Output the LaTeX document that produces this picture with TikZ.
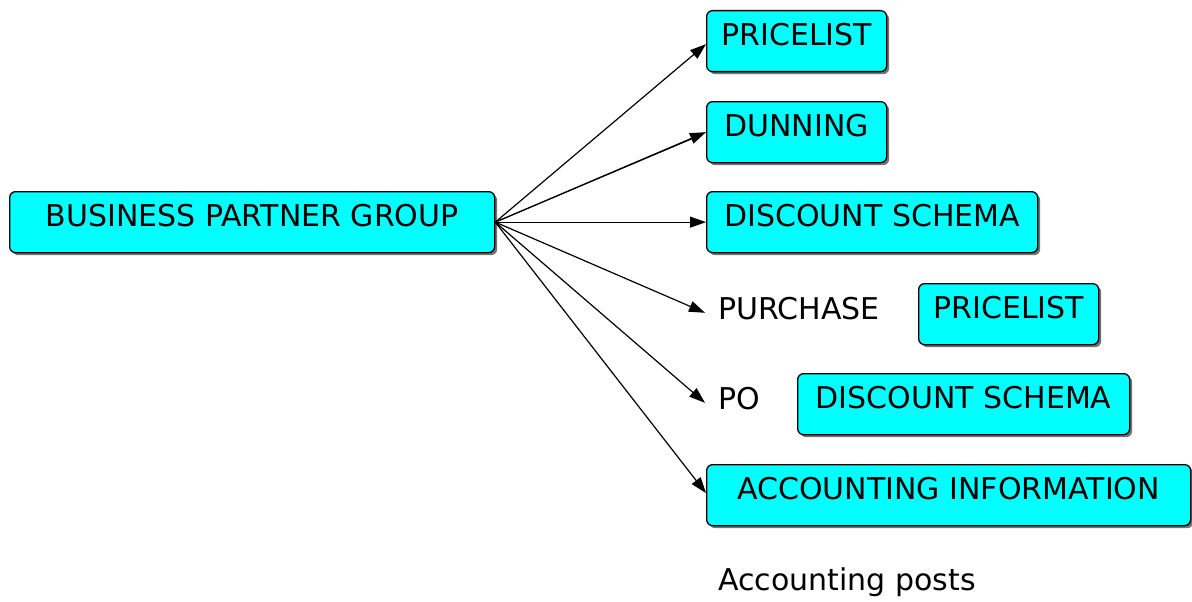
\documentclass[tikz,border=0pt]{standalone}
\usepackage{fontspec}
\setmainfont{DejaVu Sans}
\usetikzlibrary{arrows.meta,shadows,calc}
\definecolor{boxcyan}{HTML}{00FFFF}
\begin{document}
\begin{tikzpicture}[x=1pt,y=-1pt,
  every node/.style={font=\fontsize{30}{36}\selectfont},
  entity/.style={draw, line width=1.3pt, fill=boxcyan, rounded corners=6pt,
    text height=22pt, text depth=14pt, inner ysep=12.5pt, inner xsep=0pt,
    anchor=north west,
    drop shadow={shadow xshift=2.5pt, shadow yshift=-2.5pt, fill=black!55, opacity=1}},
  label/.style={inner xsep=13pt, inner ysep=0pt, text height=22pt, text depth=8pt,
    anchor=south west},
  link/.style={line width=1.2pt, -{Triangle[length=16pt,width=11pt]}}]
\useasboundingbox (0,0) rectangle (1192,602);

% source entity
\node[entity, minimum width=485pt] (bpg) at (9,191) {BUSINESS PARTNER GROUP};

% target entities
\node[entity, minimum width=180pt] (pl)  at (706,10)  {PRICELIST};
\node[entity, minimum width=180pt] (dun) at (706,101) {DUNNING};
\node[entity, minimum width=331pt] (ds)  at (706,191) {DISCOUNT SCHEMA};
\node[entity, minimum width=180pt] (ppl) at (918,283) {PRICELIST};
\node[entity, minimum width=332pt] (pds) at (797,373) {DISCOUNT SCHEMA};
\node[entity, minimum width=484pt] (acc) at (706,464) {ACCOUNTING INFORMATION};

% plain labels
\node[label] (pur) at (705,328) {PURCHASE};
\node[label] (po)  at (705,418) {PO};
\node[anchor=base west, inner sep=0pt] (posts) at (718,590) {Accounting posts};

% connectors
\draw[link] (bpg.east) -- ($(pl.west)+(0,3)$);
\draw[link] (bpg.east) -- (dun.west);
\draw[line width=0.9pt] (bpg.east) -- ($(dun.west)+(-10,5)$);
\draw[link] (bpg.east) -- (ds.west);
\draw[link] (bpg.east) -- (pur.west);
\draw[link] (bpg.east) -- (po.west);
\draw[link] (bpg.east) -- ($(acc.west)+(0,-2)$);
\end{tikzpicture}
\end{document}
